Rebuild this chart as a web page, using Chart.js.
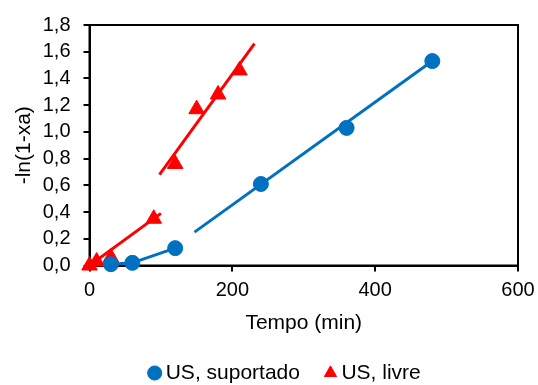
<!DOCTYPE html>
<html>
<head>
<meta charset="utf-8">
<script src="https://cdn.jsdelivr.net/npm/chart.js@4.4.0/dist/chart.umd.min.js"></script>
<style>
  html, body { margin: 0; padding: 0; background: #fff; }
</style>
</head>
<body>
<canvas id="chart" width="538" height="385"></canvas>
<script>
const suportadoTempo = [30, 60, 120, 240, 360, 480];
const suportadoLn = [0.01, 0.02, 0.13, 0.61, 1.03, 1.53];
const livreTempo = [0, 10, 30, 90, 120, 150, 180, 210];
const livreLn = [0, 0.03, 0.06, 0.35, 0.76, 1.17, 1.28, 1.46];
// trend line end points
const suportadoFitTempo = [147, 480];
const suportadoFitLn = [0.25, 1.53];
const livreFit1Tempo = [0, 100];
const livreFit1Ln = [0, 0.39];
const livreFit2Tempo = [98, 231];
const livreFit2Ln = [0.68, 1.66];
const xTicks = [0, 200, 400, 600];
const yTicks = [0, 0.2, 0.4, 0.6, 0.8, 1.0, 1.2, 1.4, 1.6, 1.8];
const seriesNames = ['US, suportado', 'US, livre'];

const blue = '#0070C0';
const red = '#FF0000';
const fontFamily = '"Liberation Sans", Arial, sans-serif';

function toPoints(xs, ys) {
    return xs.map((x, i) => ({x: x, y: ys[i]}));
}

function fitLine(xs, ys, color) {
    return {data: toPoints(xs, ys), showLine: true, pointRadius: 0, borderColor: color, borderWidth: 3, order: 2};
}

const plotFrame = {
    id: 'plotFrame',
    beforeDatasetsDraw(chart) {
        const {ctx, chartArea: a} = chart;
        ctx.save();
        ctx.strokeStyle = '#000';
        ctx.lineWidth = 2;
        ctx.strokeRect(a.left, a.top, a.right - a.left, a.bottom - a.top);
        ctx.restore();
    }
};

// move the legend row to where the original sits
const legendShift = {
    id: 'legendShift',
    afterLayout(chart) {
        const lg = chart.legend;
        lg.left += 28.5; lg.right += 28.5;
        lg.top -= 7.5; lg.bottom = chart.height;
        lg.height = lg.bottom - lg.top;
    }
};

new Chart(document.getElementById('chart'), {
    type: 'scatter',
    data: {
        datasets: [
            {label: seriesNames[0], data: toPoints(suportadoTempo, suportadoLn), pointStyle: 'circle', pointRadius: 7.5,
             backgroundColor: blue, borderColor: blue, borderWidth: 1, clip: false, order: 0},
            {label: seriesNames[1], data: toPoints(livreTempo, livreLn), pointStyle: 'triangle', pointRadius: 9,
             backgroundColor: red, borderColor: red, borderWidth: 1, clip: false, order: 1},
            {data: toPoints(suportadoTempo.slice(0, 3), suportadoLn.slice(0, 3)), showLine: true, pointRadius: 0,
             borderColor: blue, borderWidth: 3, order: 2},
            fitLine(suportadoFitTempo, suportadoFitLn, blue),
            fitLine(livreFit1Tempo, livreFit1Ln, red),
            fitLine(livreFit2Tempo, livreFit2Ln, red)
        ]
    },
    options: {
        responsive: false,
        animation: false,
        devicePixelRatio: 1,
        layout: {padding: {top: 24, right: 20, left: 0, bottom: 0}},
        scales: {
            x: {
                type: 'linear', min: 0, max: 600,
                afterBuildTicks: s => { s.ticks = xTicks.map(v => ({value: v})); },
                afterFit: s => { s.height = 74.5; s.paddingLeft = 0; s.paddingRight = 0; },
                ticks: {font: {family: fontFamily, size: 20}, color: '#000', padding: 7, maxRotation: 0, autoSkip: false},
                grid: {drawOnChartArea: false, drawTicks: true, tickLength: 6, color: '#000', lineWidth: 2},
                border: {display: true, color: '#000', width: 2},
                title: {display: true, text: 'Tempo (min)', color: '#000', font: {family: fontFamily, size: 21},
                        padding: {top: 0, bottom: 4}}
            },
            y: {
                type: 'linear', min: 0, max: 1.8,
                afterBuildTicks: s => { s.ticks = yTicks.map(v => ({value: v})); },
                afterFit: s => { s.width = 89.5; },
                ticks: {font: {family: fontFamily, size: 20}, color: '#000', padding: 13, autoSkip: false,
                        callback: v => v.toFixed(1).replace('.', ',')},
                grid: {drawOnChartArea: false, drawTicks: true, tickLength: 6, color: '#000', lineWidth: 2},
                border: {display: true, color: '#000', width: 2},
                title: {display: true, text: '-ln(1-xa)', color: '#000', font: {family: fontFamily, size: 21},
                        padding: {top: 12, bottom: 0}}
            }
        },
        plugins: {
            tooltip: {enabled: false},
            legend: {
                position: 'bottom',
                maxHeight: 45,
                labels: {
                    usePointStyle: true, boxWidth: 1, boxHeight: 10, padding: 30, color: '#000',
                    font: {family: fontFamily, size: 21},
                    filter: item => item.datasetIndex < 2
                }
            }
        }
    },
    plugins: [plotFrame, legendShift]
});
</script>
</body>
</html>
